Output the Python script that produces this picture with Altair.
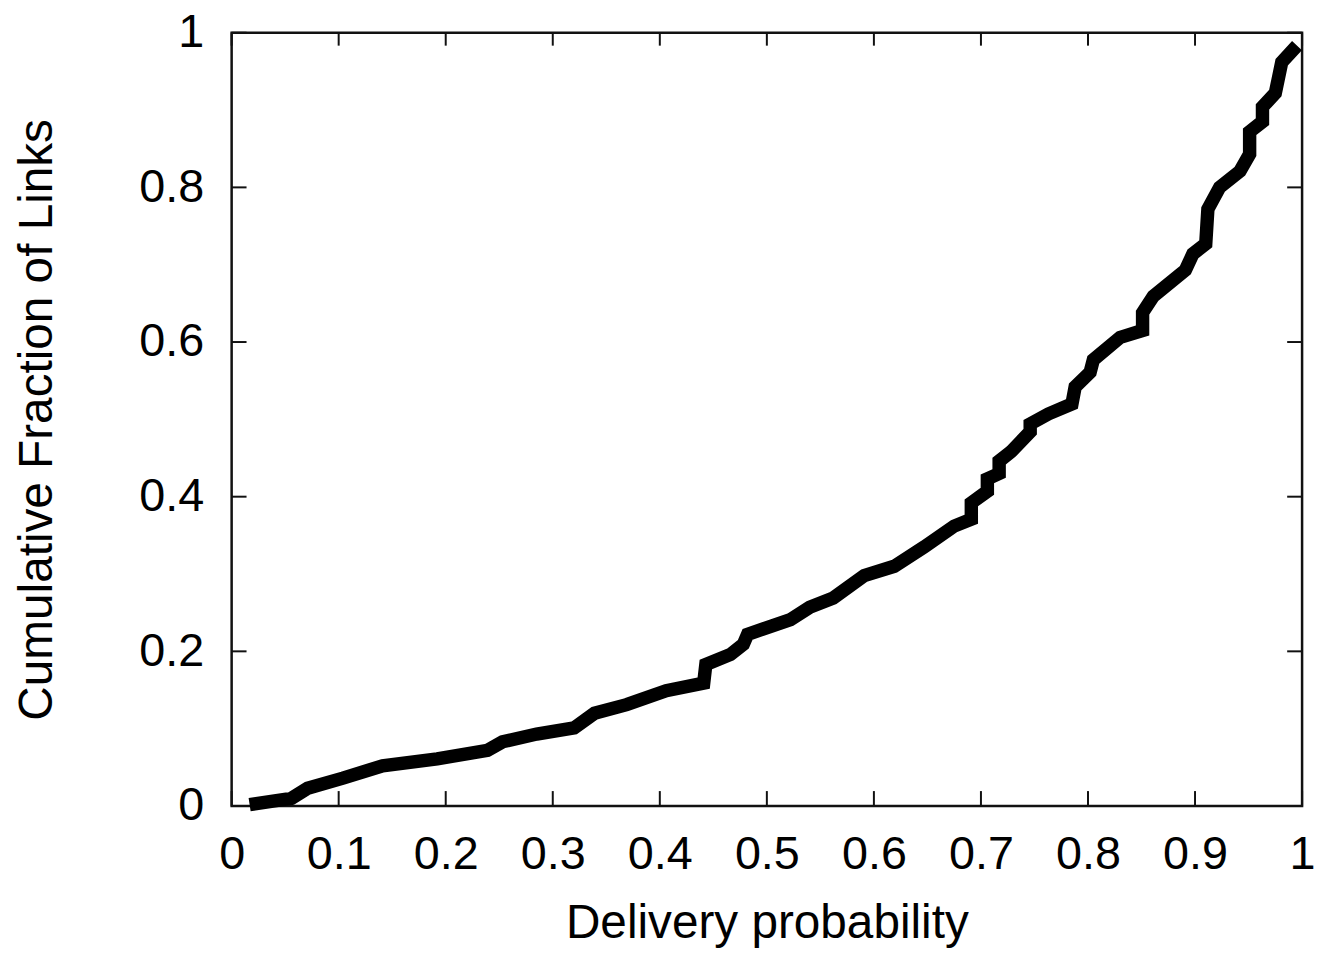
import altair as alt
import pandas as pd

# CDF curve
prob = [0.023, 0.056, 0.071, 0.104, 0.141, 0.192, 0.239, 0.253, 0.285, 0.320,
        0.339, 0.369, 0.406, 0.441, 0.443, 0.466, 0.478, 0.482, 0.522, 0.540,
        0.562, 0.591, 0.619, 0.647, 0.675, 0.691, 0.691, 0.706, 0.706, 0.717,
        0.717, 0.728, 0.746, 0.746, 0.763, 0.785, 0.788, 0.802, 0.805, 0.830,
        0.851, 0.851, 0.861, 0.891, 0.898, 0.910, 0.912, 0.923, 0.942, 0.951,
        0.951, 0.963, 0.963, 0.975, 0.981, 0.991]
frac = [0.003, 0.010, 0.023, 0.036, 0.052, 0.061, 0.072, 0.083, 0.093, 0.101,
        0.120, 0.131, 0.149, 0.159, 0.183, 0.196, 0.209, 0.222, 0.241, 0.257,
        0.269, 0.298, 0.310, 0.335, 0.362, 0.371, 0.392, 0.407, 0.423, 0.430,
        0.446, 0.458, 0.484, 0.494, 0.507, 0.520, 0.542, 0.561, 0.577, 0.606,
        0.615, 0.638, 0.659, 0.693, 0.714, 0.727, 0.772, 0.800, 0.821, 0.843,
        0.872, 0.885, 0.904, 0.922, 0.962, 0.977]

x_ticks = [0, 0.1, 0.2, 0.3, 0.4, 0.5, 0.6, 0.7, 0.8, 0.9, 1]
y_ticks = [0, 0.2, 0.4, 0.6, 0.8, 1]

W, H = 1077, 778
FONT = "Liberation Sans"
FS = 47
TFS = 48

df = pd.DataFrame({"p": prob, "f": frac})
dfx = pd.DataFrame({"t": x_ticks})
dfy = pd.DataFrame({"t": y_ticks})
dframe = pd.DataFrame({"k": [0]})

xscale = alt.Scale(domain=[0, 1], nice=False)
yscale = alt.Scale(domain=[0, 1], nice=False)

line = alt.Chart(df).mark_line(
    color="black", strokeWidth=13.5, strokeJoin="miter", strokeCap="square"
).encode(
    x=alt.X("p:Q", scale=xscale,
            axis=alt.Axis(values=x_ticks, format="~g", title="Delivery probability",
                          ticks=False, domain=False, grid=False,
                          labelFont=FONT, labelFontSize=FS, labelColor="black",
                          labelPadding=26, labelFlush=False,
                          titleFont=FONT, titleFontSize=TFS, titleFontWeight="normal",
                          titleColor="black", titlePadding=22)),
    y=alt.Y("f:Q", scale=yscale,
            axis=alt.Axis(values=y_ticks, format="~g", title="Cumulative Fraction of Links",
                          ticks=False, domain=False, grid=False,
                          labelFont=FONT, labelFontSize=FS, labelColor="black",
                          labelPadding=28, labelFlush=False,
                          titleFont=FONT, titleFontSize=TFS, titleFontWeight="normal",
                          titleColor="black", titlePadding=78)),
)

tick_style = dict(color="#111", strokeWidth=2)
xb = alt.Chart(dfx).mark_rule(**tick_style).encode(
    x=alt.X("t:Q", scale=xscale), y=alt.value(H), y2=alt.value(H - 15))
xt = alt.Chart(dfx).mark_rule(**tick_style).encode(
    x=alt.X("t:Q", scale=xscale), y=alt.value(0), y2=alt.value(13))
yl = alt.Chart(dfy).mark_rule(**tick_style).encode(
    y=alt.Y("t:Q", scale=yscale), x=alt.value(0), x2=alt.value(15))
yr = alt.Chart(dfy).mark_rule(**tick_style).encode(
    y=alt.Y("t:Q", scale=yscale), x=alt.value(W), x2=alt.value(W - 15))

frame = alt.Chart(dframe).mark_rect(
    filled=False, stroke="#111", strokeWidth=2.5
).encode(x=alt.value(0), x2=alt.value(W), y=alt.value(0), y2=alt.value(H))

chart = alt.layer(frame, xb, xt, yl, yr, line).properties(
    width=W, height=H,
    padding={"left": 225, "top": 22, "right": 13, "bottom": 140},
    autosize=alt.AutoSizeParams(type="none"),
).configure_view(strokeOpacity=0).configure(background="white")

chart.save("out.html", embed_options={"renderer": "svg", "actions": False})
